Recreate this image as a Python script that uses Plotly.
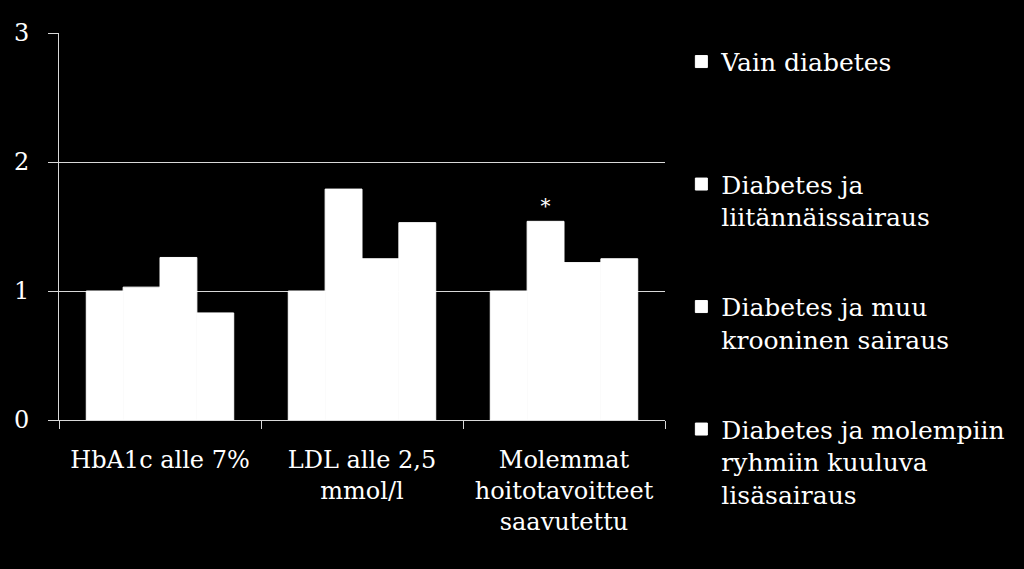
import plotly.graph_objects as go

categories = ["HbA1c alle 7%", "LDL alle 2,5<br>mmol/l", "Molemmat<br>hoitotavoitteet<br>saavutettu"]
series_names = [
    "Vain diabetes",
    "Diabetes ja<br>liitännäissairaus",
    "Diabetes ja muu<br>krooninen sairaus",
    "Diabetes ja molempiin<br>ryhmiin kuuluva<br>lisäsairaus",
]
vain_diabetes = [1.00, 1.00, 1.00]
liitannais = [1.03, 1.79, 1.54]
muu_krooninen = [1.26, 1.25, 1.22]
molemmat = [0.83, 1.53, 1.25]
significance = ["", "", "*"]  # marked above the second series

FONT = "DejaVu Serif"

fig = go.Figure()
for i, (name, vals) in enumerate(zip(series_names, [vain_diabetes, liitannais, muu_krooninen, molemmat])):
    # pad every legend entry to three lines so the items sit evenly spaced
    n_lines = name.count("<br>") + 1
    label = name + "<br> " * (3 - n_lines)
    fig.add_trace(go.Bar(
        x=categories, y=vals, name=label, legendgroup=f"g{i}",
        marker=dict(color="white", line=dict(width=1, color="white")),
        text=significance if i == 1 else None,
        textposition="outside",
        textfont=dict(color="white", size=20, family=FONT),
        cliponaxis=False,
    ))

fig.update_layout(
    width=1024, height=569,
    paper_bgcolor="black", plot_bgcolor="black",
    font=dict(family=FONT, color="white", size=24),
    barmode="group", bargap=0.27, bargroupgap=0,
    margin=dict(l=59, r=359, t=33, b=149),
    showlegend=True,
    legend=dict(x=1.027, y=0.985, xanchor="left", yanchor="top",
                valign="top", font=dict(size=25, color="white"),
                traceorder="grouped", tracegroupgap=22, maxheight=560,
                bgcolor="rgba(0,0,0,0)"),
    xaxis=dict(showline=True, linecolor="#d9d9d9", linewidth=1,
               ticks="outside", tickson="boundaries", ticklen=8, tickcolor="#d9d9d9",
               ticklabelstandoff=18,
               tickfont=dict(size=24, color="white")),
    yaxis=dict(range=[0, 3], dtick=1, showgrid=True, gridcolor="#d9d9d9", gridwidth=1,
               showline=True, linecolor="#d9d9d9", linewidth=1,
               ticks="outside", ticklen=10, tickcolor="#d9d9d9",
               ticklabelstandoff=14,
               tickfont=dict(size=24, color="white"), zeroline=False),
)

fig.write_html("out.html", config={"displayModeBar": False},
               post_script="document.body.style.margin='0';")
